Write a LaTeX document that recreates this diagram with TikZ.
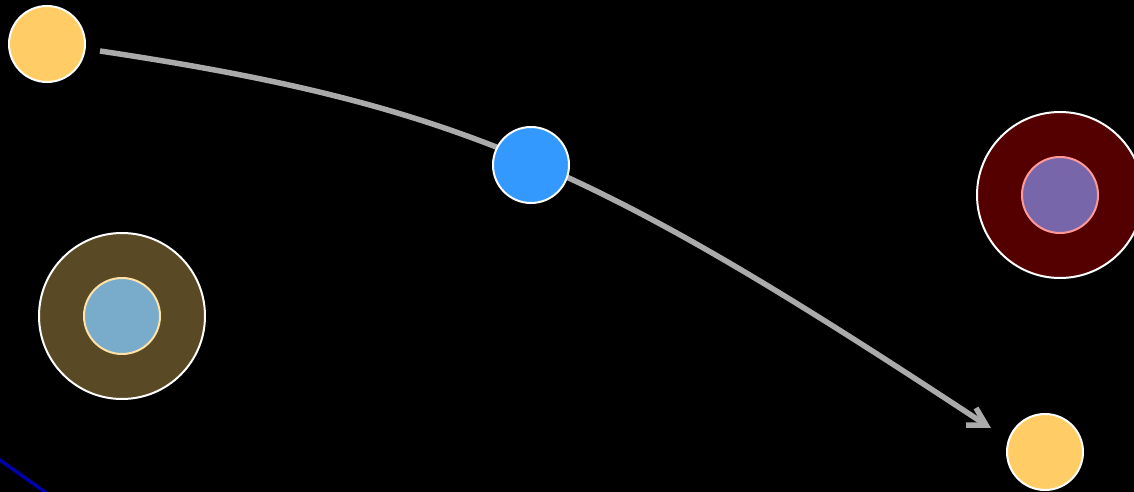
\documentclass[tikz,border=0pt]{standalone}
\usetikzlibrary{arrows.meta,calc}
\definecolor{sun}{HTML}{FFCC66}
\definecolor{skyb}{HTML}{3399FF}
\definecolor{brownring}{HTML}{594925}
\definecolor{paleblue}{HTML}{79ABCB}
\definecolor{darkred}{HTML}{550000}
\definecolor{lilac}{HTML}{7766AA}
\definecolor{pinkline}{HTML}{FF9999}
\definecolor{cream}{HTML}{FFE2A8}
\definecolor{arrowgray}{HTML}{AAAAAA}
\definecolor{navyline}{HTML}{0000AA}
\tikzset{
  small/.style={circle, minimum size=76pt, inner sep=0pt, draw=white, line width=2pt},
  big/.style={circle, minimum size=166pt, inner sep=0pt, draw=white, line width=2pt},
  inner/.style={circle, minimum size=76pt, inner sep=0pt, line width=2pt},
  connector/.style={draw=arrowgray, line width=5.5pt},
  barb/.style={draw=arrowgray, line width=5.5pt, line join=miter, line cap=butt},
}
\begin{document}
\begin{tikzpicture}[x=1pt,y=-1pt]
\fill[black] (0,0) rectangle (1134,492);
\useasboundingbox (0,0) rectangle (1134,492);
\clip (0,0) rectangle (1134,492);
\draw[navyline, line width=3.5pt] (-10,453) -- (55,499);
\node[big, fill=brownring] (b) at (122,316) {};
\node[inner, fill=paleblue, draw=cream] (bi) at (122,316) {};
\node[big, fill=darkred] (r) at (1060,195) {};
\node[inner, fill=lilac, draw=pinkline] (ri) at (1060,195) {};
\node[small, fill=sun] (a) at (47,44) {};
\node[small, fill=sun] (e) at (1045,452) {};
\coordinate (s) at (100,51);
\coordinate (t) at (986,425);
\draw[connector] (s) .. controls (465,105.75) and (598,169.3) .. (t);
\draw[barb] ($(t)+(-20,0)$) -- (t) -- ($(t)+(-10,-17)$);
\node[small, fill=skyb] (m) at (531,165) {};
\end{tikzpicture}
\end{document}
